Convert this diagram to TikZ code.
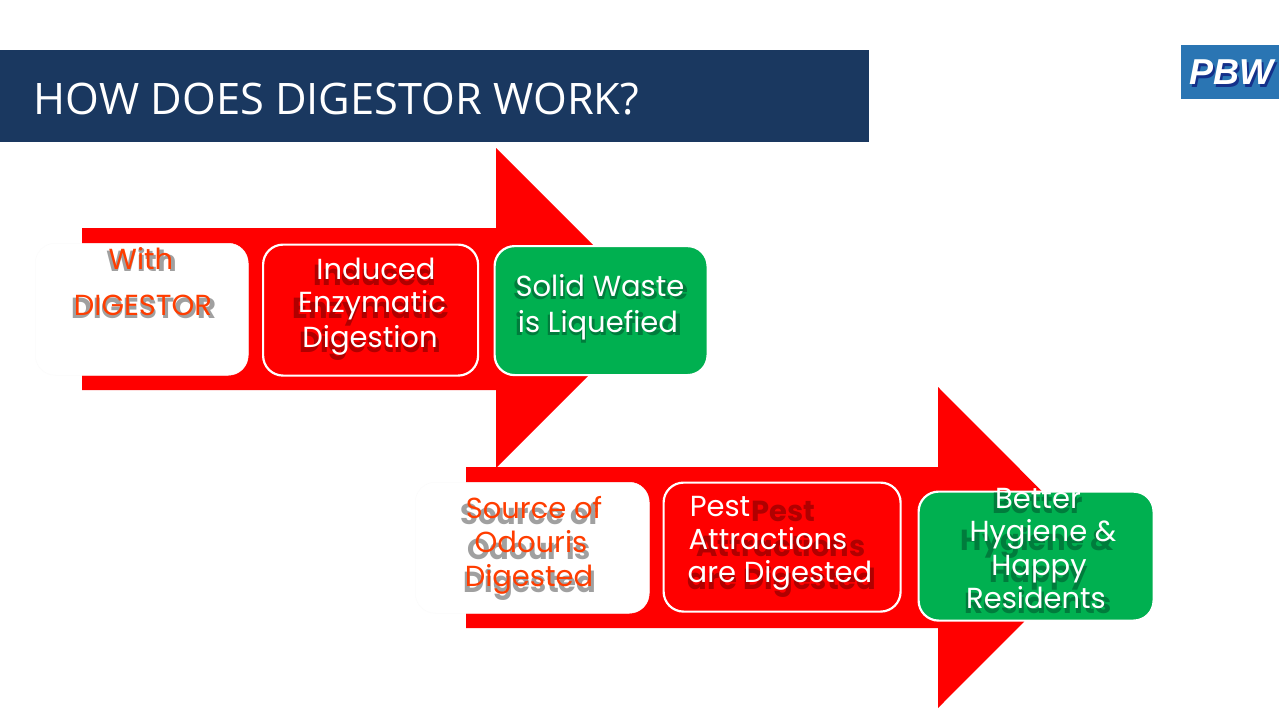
\documentclass[tikz,border=0pt]{standalone}
\usepackage{fontspec}
\setmainfont{Poppins}
\newfontfamily\titlefont{Open Sans}
\newfontfamily\logofont{Liberation Sans}
\definecolor{barblue}{HTML}{1A3860}
\definecolor{logoblue}{HTML}{2A75B3}
\definecolor{logodark}{HTML}{14308A}
\definecolor{leaf}{HTML}{00B050}
\definecolor{arrowred}{HTML}{FF0000}
\definecolor{orangetext}{HTML}{FF3D00}
\definecolor{greyshadow}{HTML}{A0A0A0}
\definecolor{redshadow}{HTML}{B00000}
\definecolor{greenshadow}{HTML}{007C3C}
\tikzset{
  x=1pt,y=-1pt,
  redarrow/.style={fill=arrowred,draw=none},
  cardbox/.style={rounded corners=20pt,line width=2.2pt,draw=white},
  ghostbox/.style={rounded corners=20pt,fill=white,draw=black!1.5,line width=.5pt},
  labeltext/.style={inner sep=0pt,yshift=-3.5pt,text height=20pt,text depth=7pt,font=\fontsize{29}{34}\selectfont},
  shadowtext/.style={labeltext,font=\fontsize{29}{34}\selectfont\bfseries},
}
% \lbl{name}{text x}{text y}{shadow x}{shadow y}{text colour}{shadow colour}{text}
\newcommand{\lbl}[8]{%
  \node[shadowtext,text=#7] (#1s) at (#4,#5) {#8};
  \node[labeltext,text=#6] (#1) at (#2,#3) {#8};}
\newcommand{\lbltwo}[9]{%
  \node[shadowtext,text=#7] (#1s) at (#4,#5) {#9};
  \node[labeltext,text=#6] (#1) at (#2,#3) {#8};}
\begin{document}
\begin{tikzpicture}
\useasboundingbox (0,0) rectangle (1280,720);
\fill[white] (0,0) rectangle (1280,720);
% title
\node[fill=barblue,minimum width=869pt,minimum height=92pt,inner sep=0pt,anchor=north west] (bar) at (0,50) {};
\node[anchor=west,inner sep=0pt,text=white,font=\titlefont\fontsize{43.4}{50}\selectfont] (title) at (33.5,99.5) {HOW DOES DIGESTOR WORK?};
% logo
\node[fill=logoblue,minimum width=98pt,minimum height=54pt,inner sep=0pt,anchor=north west] (logo) at (1181,45) {};
\node[inner sep=0pt,text=logodark,font=\logofont\bfseries\itshape\fontsize{36}{38}\selectfont] (pbws) at (1233,75) {PBW};
\node[inner sep=0pt,text=white,font=\logofont\bfseries\itshape\fontsize{36}{38}\selectfont] (pbw) at (1231,72) {PBW};
% arrows
\fill[redarrow] (82,228) -- (496,228) -- (496,148) -- (656,308) -- (496,468) -- (496,390) -- (82,390) -- cycle;
\fill[redarrow] (466,467) -- (938,467) -- (938,387) -- (1098,547.5) -- (938,708) -- (938,628) -- (466,628) -- cycle;
% boxes
\node[ghostbox,minimum width=213pt,minimum height=132pt,inner sep=0pt,anchor=north west] (b1) at (35,243) {};
\node[cardbox,fill=arrowred,minimum width=215pt,minimum height=131pt,inner sep=0pt,anchor=north west] (b2) at (262,243.5) {};
\node[cardbox,fill=leaf,minimum width=213pt,minimum height=129pt,inner sep=0pt,anchor=north west] (b3) at (493.5,245) {};
\node[ghostbox,minimum width=234pt,minimum height=131pt,inner sep=0pt,anchor=north west] (b4) at (415,482) {};
\node[cardbox,fill=arrowred,minimum width=237pt,minimum height=129pt,inner sep=0pt,anchor=north west] (b5) at (662.5,481.5) {};
\node[cardbox,fill=leaf,minimum width=235pt,minimum height=129pt,inner sep=0pt,anchor=north west] (b6) at (917.5,490.5) {};
% labels
\lbl{t1a}{141}{259}{142}{261}{orangetext}{greyshadow}{With}
\lbl{t1b}{143}{305}{144}{308}{orangetext}{greyshadow}{DIGESTOR}
\lbl{t2a}{376}{269}{375}{275}{white}{redshadow}{Induced}
\lbl{t2b}{372}{302}{371}{308}{white}{redshadow}{Enzymatic}
\lbl{t2c}{370}{337}{370}{342}{white}{redshadow}{Digestion}
\lbl{t3a}{600}{286}{601}{289}{white}{greenshadow}{Solid Waste}
\lbl{t3b}{598}{322}{599}{325}{white}{greenshadow}{is Liquefied}
\lbl{t4a}{534}{508}{530}{514}{orangetext}{greyshadow}{Source of}
\lbltwo{t4b}{531}{542}{529}{549}{orangetext}{greyshadow}{Odouris}{Odour is}
\lbl{t4c}{529}{576}{530}{582}{orangetext}{greyshadow}{Digested}
\lbl{t5a}{720}{506}{783}{511}{white}{redshadow}{Pest}
\lbl{t5b}{768}{539}{781}{546}{white}{redshadow}{Attractions}
\lbl{t5c}{780}{572}{782}{579}{white}{redshadow}{are Digested}
\lbl{t6a}{1038}{498}{1038}{503}{white}{greenshadow}{Better}
\lbl{t6b}{1043}{531}{1037}{540}{white}{greenshadow}{Hygiene \&}
\lbl{t6c}{1039}{565}{1039}{572}{white}{greenshadow}{Happy}
\lbl{t6d}{1036}{598}{1038}{603}{white}{greenshadow}{Residents}
\end{tikzpicture}
\end{document}
